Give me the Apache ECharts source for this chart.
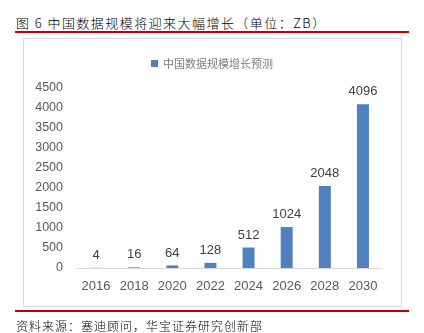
<!DOCTYPE html>
<html><head><meta charset="utf-8">
<script src="https://cdn.jsdelivr.net/npm/echarts@6/dist/echarts.min.js"></script>
<style>
html,body{margin:0;padding:0;background:#fff;}
#wrap{position:relative;width:424px;height:333px;overflow:hidden;}
#title{position:absolute;left:16px;top:13px;font-family:"Noto Sans CJK SC";font-size:13px;font-weight:300;color:#000;letter-spacing:1.45px;white-space:nowrap;}
#rl1{position:absolute;left:15px;top:31px;width:394px;height:2px;background:#c00000;}
#box{position:absolute;left:23px;top:38px;width:377px;height:267px;border:1px solid #d9d9d9;}
#chart{position:absolute;left:0;top:0;width:424px;height:333px;}
#rl2{position:absolute;left:15px;top:310px;width:394px;height:2px;background:#c00000;}
#src{position:absolute;left:16px;top:317px;font-family:"Noto Sans CJK SC";font-size:12px;font-weight:300;color:#000;letter-spacing:1px;white-space:nowrap;}
</style></head>
<body><div id="wrap">
<div id="title">图 6 中国数据规模将迎来大幅增长（单位：ZB）</div>
<div id="rl1"></div>
<div id="box"></div>
<div id="chart"></div>
<div id="rl2"></div>
<div id="src">资料来源：塞迪顾问，华宝证券研究创新部</div>
</div>
<script>
var categories = ['2016','2018','2020','2022','2024','2026','2028','2030'];
var values = [4,16,64,128,512,1024,2048,4096];
var seriesName = '中国数据规模增长预测';
var chart = echarts.init(document.getElementById('chart'), null, {renderer:'canvas'});
chart.setOption({
  animation:false,
  legend:{top:53,left:'center',itemWidth:7,itemHeight:7,icon:'rect',itemGap:4,
    textStyle:{color:'#7f7f7f',fontSize:11,fontFamily:'Noto Sans CJK SC'},data:[seriesName]},
  grid:{left:77,right:42,top:88,bottom:65,containLabel:false},
  xAxis:{type:'category',data:categories,
    axisLine:{lineStyle:{color:'#d9d9d9'}},axisTick:{show:false},
    axisLabel:{color:'#595959',fontSize:13,fontFamily:'"Liberation Sans", sans-serif',margin:12}},
  yAxis:{type:'value',min:0,max:4500,interval:500,
    axisLine:{show:false},axisTick:{show:false},splitLine:{show:false},
    axisLabel:{color:'#595959',fontSize:12.5,fontFamily:'"Liberation Sans", sans-serif',margin:14,
      formatter:function(v){return String(v);}}},
  series:[{name:seriesName,type:'bar',data:values,barWidth:12,
    itemStyle:{color:'#4f81bd'},
    label:{show:true,position:'top',distance:6,color:'#404040',fontSize:13,fontFamily:'"Liberation Sans", sans-serif'}}]
});
</script>
</body></html>
